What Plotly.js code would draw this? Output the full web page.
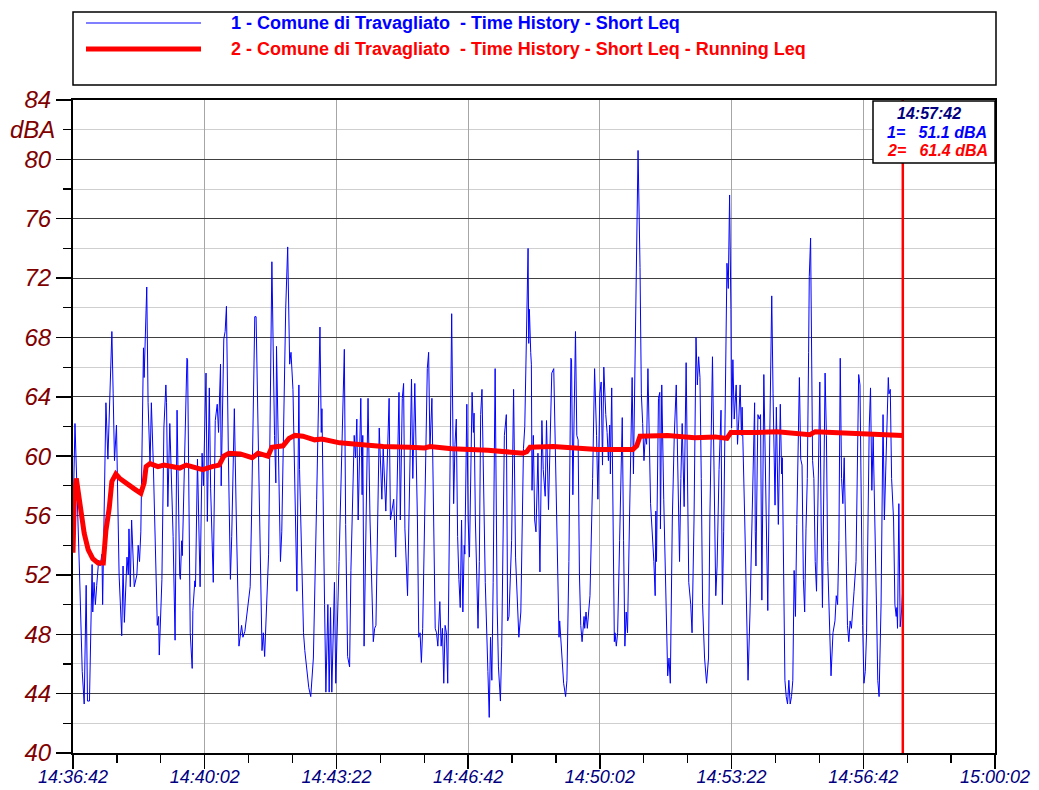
<!DOCTYPE html>
<html>
<head>
<meta charset="utf-8">
<script src="https://cdn.plot.ly/plotly-3.0.1.min.js"></script>
<style>html,body{margin:0;padding:0;background:#fff;}#chart{width:1039px;height:790px;}</style>
</head>
<body>
<div id="chart"></div>
<script>
// seconds after 14:36:42 for the Short Leq time history (series 1)
const shortT = [0,3,10,12,14,17,20,22,25,29,30,32,34,36,39,41,44,45,46,49,50,53,56,59,61,63,66,70,74,76,78,82,84,85,87,89,93,97,99,101,103,107,108,109,112,114,117,119,122,128,130,131,135,138,141,142,144,147,152,155,158,162,
163,165,166,173,174,178,181,182,185,186,189,193,196,198,199,202,204,207,209,213,216,219,221,224,225,229,231,233,236,239,241,245,248,252,256,258,261,266,269,271,276,278,285,287,289,291,297,302,306,308,309,315,317,322,323,326,329,331,
334,340,343,344,350,352,356,358,361,365,370,375,377,378,382,384,387,389,391,393,397,399,404,410,412,414,417,420,422,427,429,431,433,437,439,440,442,448,451,456,458,460,463,465,469,471,475,480,482,487,490,495,497,500,502,504,
508,514,516,519,523,525,527,529,531,536,538,540,542,545,548,550,552,554,557,559,561,563,565,567,569,572,575,578,580,582,584,586,588,590,592,594,595,598,600,602,606,608,609,611,615,617,619,621,624,626,630,632,634,636,638,641,644,646,649,651,655,658,660,662,666,669,672,675,677,
680,684,686,689,691,692,693,695,696,697,699,701,703,706,709,712,714,717,719,722,725,727,730,735,738,739,742,745,748,750,753,756,757,759,763,765,767,769,771,773,776,777,779,781,783,785,789,792,795,797,800,802,804,806,809,811,813,815,816,818,822,823,825,827,830,834,836,838,840,842,845,849,851,853,855,858,
861,863,865,867,869,871,873,875,877,882,884,885,886,889,891,892,894,897,900,903,905,907,910,913,916,919,921,923,925,928,931,935,938,940,943,946,948,950,952,954,956,959,962,965,967,971,974,976,978,981,984,986,988,990,993,995,997,999,1000,1002,1004,1007,1009,1011,1013,1015,1016,1020,1023,1025,1028,1031,
1035,1036,1037,1040,1042,1044,1046,1049,1052,1055,1058,1061,1063,1066,1068,1069,1071,1074,1075,1076,1077,1079,1081,1083,1085,1087,1089,1091,1093,1095,1097,1099,1101,1103,1105,1107,1109,1111,1113,1115,1117,1118,1120,1121,1123,1125,1127,1129,1131,1134,1136,1138,1142,1144,1146,1148,1151,1154,1157,1159,1161,1163,1165,1167,1169,1171,1173,1176,1178,1180,1182,1184,1186,1189,1191,1193,1195,1197,1199,1201,1203,1205,1207,1209,1211,1213,1215,1218,1220,1222,1224,1227,1230,1232,1234,1236,1238,1239,1241,1243,1246,1248,1250,1251,1252,1254,1256,1258,1260];
const shortLeq = [55.5,62.2,52.0,48.9,45.5,43.3,51.3,43.5,43.5,52.7,49.5,51.5,50.0,51.3,53.0,52.6,53.4,50.0,53.2,63.5,63.6,59.8,64.2,68.4,64.2,59.7,62.1,52.0,47.9,52.6,48.8,53.2,52.0,55.1,51.2,55.7,51.2,52.0,54.0,52.9,54.9,67.3,65.3,67.3,71.4,63.6,59.4,63.6,59.4,48.6,49.2,46.6,51.7,61.9,64.8,63.6,56.6,62.2,54.6,47.6,63.1,52.0,
51.7,54.3,53.3,66.6,66.5,48.1,45.7,49.6,51.6,51.2,59.8,51.2,60.2,58.0,60.3,65.6,55.6,64.6,57.8,51.5,62.4,63.5,61.6,66.2,58.0,67.9,68.4,70.1,59.9,51.7,54.6,63.2,55.7,47.2,48.6,47.8,48.2,50.3,51.2,55.7,69.4,69.4,52.9,46.9,48.1,46.5,53.4,73.1,61.4,58.2,67.4,52.9,54.9,67.3,70.0,74.1,66.2,67.0,
64.5,50.9,64.8,59.1,48.1,46.9,45.5,44.4,43.8,46.4,57.1,68.7,61.6,63.2,50.0,44.1,50.0,44.1,49.8,44.1,51.5,44.7,52.9,65.3,67.2,55.4,46.5,45.8,52.3,61.4,59.9,62.5,55.7,63.9,57.4,61.4,47.2,63.9,55.7,47.5,48.4,48.6,56.8,61.9,57.1,60.5,56.3,63.9,55.7,57.1,53.2,64.3,55.7,63.9,64.9,55.1,
50.6,65.2,58.5,64.9,55.7,47.8,48.1,46.1,48.4,61.4,65.9,67.0,60.5,63.9,52.9,48.4,48.1,47.2,50.2,47.2,48.4,44.7,48.6,48.1,44.7,55.7,69.6,56.8,60.8,62.5,54.6,51.7,49.8,55.7,49.5,54.0,53.4,63.5,55.7,53.2,64.3,61.6,62.9,55.7,48.4,52.9,62.8,64.5,55.7,51.5,45.5,42.4,47.8,44.9,51.5,65.9,50.0,45.8,43.5,47.2,61.4,62.8,48.9,49.2,54.3,64.5,53.2,50.0,47.8,
49.5,60.5,62.0,69.9,74.0,67.6,69.9,67.0,66.2,57.7,61.4,55.7,54.9,60.2,52.2,62.4,59.1,57.3,62.4,56.4,62.9,65.6,65.9,52.9,47.8,48.9,46.4,44.7,43.8,44.9,52.9,66.6,66.5,57.4,68.4,61.4,61.1,52.0,48.6,47.5,49.2,48.4,49.5,48.4,49.5,50.6,58.5,65.9,61.4,57.1,64.2,65.0,59.4,66.0,62.8,61.6,59.7,62.1,58.8,64.6,47.5,48.1,47.2,48.1,54.3,62.6,54.3,47.2,49.5,48.1,55.7,65.3,58.8,65.9,72.7,80.6,
72.7,64.2,62.2,59.7,61.4,60.8,65.9,61.9,56.8,52.9,50.6,56.3,52.9,63.9,64.3,55.1,64.8,57.1,50.0,45.2,46.4,44.7,55.7,61.4,64.8,55.7,52.9,58.5,62.2,56.6,66.3,51.5,50.0,48.1,55.7,68.0,64.8,66.7,65.3,58.5,50.0,46.4,44.7,46.4,55.7,66.7,55.7,50.6,52.6,59.1,63.1,50.0,54.9,61.4,73.0,71.3,77.6,69.9,61.9,66.5,62.5,64.8,60.8,62.5,64.8,61.4,63.3,55.7,47.8,44.9,49.5,55.7,
63.6,54.9,52.6,62.8,62.5,62.8,50.3,65.5,55.7,49.6,61.4,70.8,64.2,56.7,63.3,59.1,55.4,63.5,59.7,58.8,59.9,50.0,44.9,43.8,43.3,44.9,43.3,43.8,44.9,52.3,49.2,55.4,61.9,65.3,59.8,59.4,51.7,49.5,55.1,58.5,67.0,72.1,74.7,68.2,59.7,58.5,52.9,50.9,55.7,65.0,55.7,49.8,65.6,61.4,52.9,50.0,45.2,48.1,48.9,50.6,50.0,54.3,66.6,58.5,56.8,59.9,55.7,48.6,47.5,48.9,48.4,50.0,50.9,52.9,58.5,65.5,64.8,55.7,48.6,44.7,45.5,48.1,55.7,61.9,64.6,57.7,61.4,55.7,50.0,44.9,43.8,50.0,62.8,55.7,59.1,62.5,65.3,64.2,64.5,58.5,55.7,50.0,49.2,49.8,48.4,56.8,48.5,49.5,51.1];

// seconds after 14:36:42 for the Running Leq (series 2)
const runT = [0,2,5,8,11,17,23,30,38,46,50,55,59,65,71,82,93,103,108,111,117,129,138,150,162,172,185,197,211,222,229,237,254,272,281,296,302,319,328,337,349,367,378,405,431,471,512,534,542,575,630,683,689,694,729,759,796,850,856,861,903,944,975,993,999,1036,1069,1119,1127,1180,1230,1260];
const runLeq = [53.5,57.0,58.5,57.6,56.3,54.8,53.7,53.1,52.8,52.8,55.0,56.5,58.3,58.8,58.5,58.1,57.8,57.5,58.2,59.3,59.5,59.3,59.4,59.3,59.2,59.4,59.2,59.1,59.3,59.4,60.0,60.2,60.15,59.9,60.2,60.0,60.6,60.7,61.2,61.4,61.35,61.1,61.15,60.9,60.8,60.65,60.6,60.55,60.65,60.5,60.4,60.2,60.3,60.6,60.65,60.55,60.45,60.45,60.7,61.35,61.4,61.25,61.3,61.2,61.6,61.6,61.65,61.45,61.65,61.55,61.45,61.4];

const seriesNames = ['1 - Comune di Travagliato  - Time History - Short Leq',
                     '2 - Comune di Travagliato  - Time History - Short Leq - Running Leq'];
const startTime = '14:36:42';
const endTime = '15:00:02';
const cursorSec = 1260;
const yTickVals = [40,44,48,52,56,60,64,68,72,76,80,84];
const unitLabel = 'dBA';

const base = Date.UTC(2000,0,1,14,36,42);
function toDate(s){ return new Date(base + s*1000).toISOString().replace('T',' ').slice(0,23); }
function hms(s){ return new Date(base + s*1000).toISOString().slice(11,19); }

const W = 1039, H = 790, L = 73, R = 44, T = 100, B = 37;
const pw = W-L-R, ph = H-T-B;
const px = x => (x-L)/pw;
const py = y => (H-B-y)/ph;

const traces = [
  {x: shortT.map(toDate), y: shortLeq, type:'scatter', mode:'lines', name: seriesNames[0],
   line:{color:'#0000ff', width:1}, hoverinfo:'skip'},
  {x: runT.map(toDate), y: runLeq, type:'scatter', mode:'lines', name: seriesNames[1],
   line:{color:'#ff0000', width:5}, hoverinfo:'skip'}
];

const blueAt = shortLeq[shortT.indexOf(cursorSec)];
const redAt = runLeq[runT.indexOf(cursorSec)];
const nb = '\u00a0';

const layout = {
  width: W, height: H,
  margin: {l:L, r:R, t:T, b:B, pad:0},
  paper_bgcolor:'#ffffff', plot_bgcolor:'#ffffff',
  showlegend:false,
  font:{family:'"Liberation Sans", Arial, sans-serif'},
  xaxis:{
    type:'date',
    range:[toDate(0), '2000-01-01 ' + endTime],
    tick0: '2000-01-01 ' + startTime, dtick: 200000, tickmode:'linear',
    tickformat:'%H:%M:%S',
    ticks:'outside', ticklen:14, tickwidth:1.5, tickcolor:'#000',
    ticklabelstandoff: -8,
    tickfont:{size:18, color:'#000080', style:'italic'},
    showgrid:true, gridcolor:'#a6a6a6', gridwidth:1,
    showline:true, linecolor:'#000', linewidth:2, mirror:true,
    zeroline:false,
    minor:{tick0:'2000-01-01 ' + startTime, dtick:200000/3, ticks:'outside', ticklen:8, tickwidth:1.2, tickcolor:'#000', showgrid:false}
  },
  yaxis:{
    range:[40,84], tickmode:'array', tickvals: yTickVals,
    ticks:'outside', ticklen:15, tickwidth:1.5, tickcolor:'#000',
    tickfont:{size:24, color:'#800000', style:'italic'},
    showgrid:true, gridcolor:'#404040', gridwidth:1,
    showline:true, linecolor:'#000', linewidth:2, mirror:true,
    zeroline:false,
    minor:{tickmode:'linear', tick0:40, dtick:2, ticks:'outside', ticklen:8, tickwidth:1.2, tickcolor:'#000', showgrid:true, gridcolor:'#cfcfcf', gridwidth:1}
  },
  shapes:[
    // legend frame
    {type:'rect', xref:'paper', yref:'paper', x0:px(73), x1:px(996), y0:py(85), y1:py(12), line:{color:'#000', width:1.5}, fillcolor:'rgba(0,0,0,0)'},
    {type:'line', xref:'paper', yref:'paper', x0:px(86), x1:px(201), y0:py(23), y1:py(23), line:{color:'#0000ff', width:1}},
    {type:'line', xref:'paper', yref:'paper', x0:px(86), x1:px(201), y0:py(49), y1:py(49), line:{color:'#ff0000', width:5}},
    // cursor
    {type:'line', xref:'x', yref:'paper', x0:toDate(cursorSec), x1:toDate(cursorSec), y0:0, y1:1, line:{color:'#ff0000', width:2.5}},
    // cursor readout box
    {type:'rect', xref:'paper', yref:'paper', x0:px(873), x1:px(995), y0:py(163), y1:py(101), line:{color:'#000', width:1.5}, fillcolor:'#ffffff'}
  ],
  annotations:[
    {xref:'paper', yref:'paper', x:px(229), y:py(23), xanchor:'left', yanchor:'middle', showarrow:false,
     text: seriesNames[0], font:{size:18, color:'#0000ff', weight:'bold'}},
    {xref:'paper', yref:'paper', x:px(229), y:py(49), xanchor:'left', yanchor:'middle', showarrow:false,
     text: seriesNames[1], font:{size:18, color:'#ff0000', weight:'bold'}},
    {xref:'paper', yref:'y', x:px(57), y:82, xanchor:'right', yanchor:'middle', showarrow:false,
     text: unitLabel, font:{size:24, color:'#800000', style:'italic'}},
    {xref:'paper', yref:'paper', x:px(929), y:py(113), xanchor:'center', yanchor:'middle', showarrow:false,
     text: hms(cursorSec), font:{size:16, color:'#000080', weight:'bold', style:'italic'}},
    {xref:'paper', yref:'paper', x:px(885), y:py(132), xanchor:'left', yanchor:'middle', showarrow:false,
     text: '1=' + nb+nb+nb + blueAt.toFixed(1) + ' ' + unitLabel, font:{size:16, color:'#0000ff', weight:'bold', style:'italic'}},
    {xref:'paper', yref:'paper', x:px(885), y:py(151), xanchor:'left', yanchor:'middle', showarrow:false,
     text: '2=' + nb+nb+nb + redAt.toFixed(1) + ' ' + unitLabel, font:{size:16, color:'#ff0000', weight:'bold', style:'italic'}}
  ]
};

Plotly.newPlot('chart', traces, layout, {staticPlot:true, displayModeBar:false});
</script>
</body>
</html>
